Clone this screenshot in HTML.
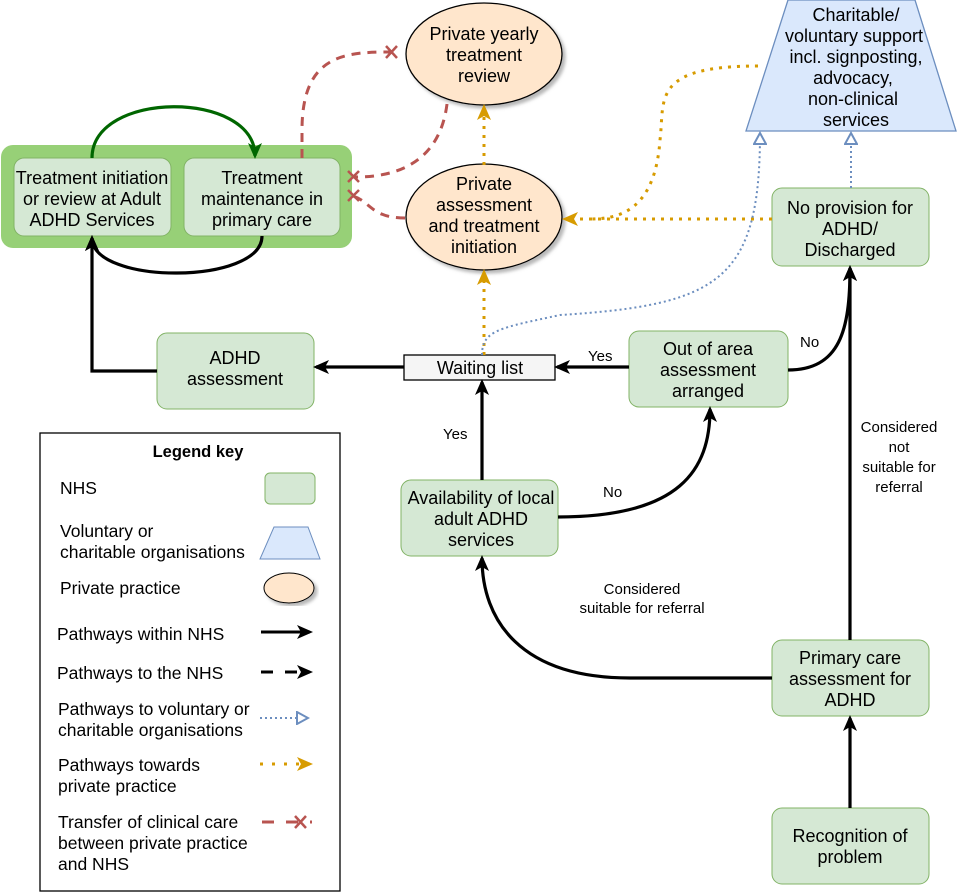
<!DOCTYPE html>
<html><head><meta charset="utf-8"><style>
html,body{margin:0;padding:0;background:#fff}
svg{display:block}
text{font-family:"Liberation Sans",Arial,sans-serif;fill:#000}
.n{font-size:18px}
.s{font-size:15px}
.l{font-size:17.5px}
</style></head><body>
<svg width="957" height="892" viewBox="0 0 957 892" xmlns="http://www.w3.org/2000/svg">
<defs>
<marker id="ab" markerWidth="16" markerHeight="16" refX="13" refY="8" orient="auto" markerUnits="userSpaceOnUse" viewBox="0 0 16 16"><path d="M0,1 L16,8 L0,15 L4,8 Z" fill="#000"/></marker>
<marker id="ag" markerWidth="16" markerHeight="16" refX="13" refY="8" orient="auto" markerUnits="userSpaceOnUse" viewBox="0 0 16 16"><path d="M0,1 L16,8 L0,15 L4,8 Z" fill="#006600"/></marker>
<marker id="ao" markerWidth="16" markerHeight="16" refX="13" refY="8" orient="auto" markerUnits="userSpaceOnUse" viewBox="0 0 16 16"><path d="M0,1 L16,8 L0,15 L4,8 Z" fill="#d79b00"/></marker>
<marker id="abl" markerWidth="14" markerHeight="14" refX="12" refY="7" orient="auto" markerUnits="userSpaceOnUse" viewBox="0 0 14 14"><path d="M1,1 L12,7 L1,13 Z" fill="#fff" stroke="#6c8ebf" stroke-width="2"/></marker>
<filter id="sh"><feDropShadow dx="3" dy="3" stdDeviation="1.5" flood-color="#888" flood-opacity="0.6"/></filter>
</defs>

<rect x="1" y="145" width="351" height="103" rx="12" fill="#97d077"/>
<rect x="14" y="158" width="157" height="78" rx="10" fill="#d5e8d4" stroke="#82b366"/>
<rect x="184" y="158" width="156" height="78" rx="10" fill="#d5e8d4" stroke="#82b366"/>
<text class="n" text-anchor="middle"><tspan x="92" y="184">Treatment initiation</tspan><tspan x="92" y="205">or review at Adult</tspan><tspan x="92" y="226">ADHD Services</tspan></text>
<text class="n" text-anchor="middle"><tspan x="262" y="184">Treatment</tspan><tspan x="262" y="205">maintenance in</tspan><tspan x="262" y="226">primary care</tspan></text>

<ellipse cx="484" cy="54" rx="78" ry="51" fill="#ffe6cc" stroke="#000" stroke-width="1.3" filter="url(#sh)"/>
<text class="n" text-anchor="middle"><tspan x="484" y="40">Private yearly</tspan><tspan x="484" y="61">treatment</tspan><tspan x="484" y="82">review</tspan></text>
<ellipse cx="484" cy="217" rx="78" ry="53" fill="#ffe6cc" stroke="#000" stroke-width="1.3" filter="url(#sh)"/>
<text class="n" text-anchor="middle"><tspan x="484" y="190">Private</tspan><tspan x="484" y="211">assessment</tspan><tspan x="484" y="232">and treatment</tspan><tspan x="484" y="253">initiation</tspan></text>

<path d="M788,0 L915,0 L956,131 L746,131 Z" fill="#dae8fc" stroke="#6c8ebf" stroke-width="1.3"/>
<text class="n" text-anchor="middle"><tspan x="856" y="21">Charitable/</tspan><tspan x="854" y="42">voluntary support</tspan><tspan x="856" y="63">incl. signposting,</tspan><tspan x="853" y="84">advocacy,</tspan><tspan x="853" y="105">non-clinical</tspan><tspan x="856" y="126">services</tspan></text>

<rect x="772" y="188" width="157" height="78" rx="10" fill="#d5e8d4" stroke="#82b366"/>
<text class="n" text-anchor="middle"><tspan x="850" y="214">No provision for</tspan><tspan x="850" y="235">ADHD/</tspan><tspan x="850" y="256">Discharged</tspan></text>
<rect x="157" y="333" width="157" height="76" rx="10" fill="#d5e8d4" stroke="#82b366"/>
<text class="n" text-anchor="middle"><tspan x="235" y="364">ADHD</tspan><tspan x="235" y="385">assessment</tspan></text>
<rect x="404" y="355" width="151" height="25" fill="#f5f5f5" stroke="#000" stroke-width="1.3"/>
<text class="n" text-anchor="middle" x="480" y="374">Waiting list</text>
<rect x="629" y="331" width="159" height="76" rx="10" fill="#d5e8d4" stroke="#82b366"/>
<text class="n" text-anchor="middle"><tspan x="708" y="355">Out of area</tspan><tspan x="708" y="376">assessment</tspan><tspan x="708" y="397">arranged</tspan></text>
<rect x="401" y="480" width="157" height="76" rx="10" fill="#d5e8d4" stroke="#82b366"/>
<text class="n" text-anchor="middle"><tspan x="481" y="504">Availability of local</tspan><tspan x="481" y="525">adult ADHD</tspan><tspan x="481" y="546">services</tspan></text>
<rect x="772" y="640" width="157" height="76" rx="10" fill="#d5e8d4" stroke="#82b366"/>
<text class="n" text-anchor="middle"><tspan x="850" y="664">Primary care</tspan><tspan x="850" y="685">assessment for</tspan><tspan x="850" y="706">ADHD</tspan></text>
<rect x="772" y="808" width="157" height="76" rx="10" fill="#d5e8d4" stroke="#82b366"/>
<text class="n" text-anchor="middle"><tspan x="850" y="842">Recognition of</tspan><tspan x="850" y="863">problem</tspan></text>

<g stroke="#000" stroke-width="3.2" fill="none">
<path d="M92,158 C92,90 255,90 255,156" stroke="#006600" marker-end="url(#ag)"/>
<path d="M262,236 C262,285 92,285 92,238" marker-end="url(#ab)"/>
<path d="M157,371 L92,371 L92,238" marker-end="url(#ab)"/>
<path d="M404,367 L316,367" marker-end="url(#ab)"/>
<path d="M629,367 L557,367" marker-end="url(#ab)"/>
<path d="M482,480 L482,382" marker-end="url(#ab)"/>
<path d="M558,517 C680,517 710,470 710,409" marker-end="url(#ab)"/>
<path d="M788,370 C840,370 850,330 850,268" marker-end="url(#ab)"/>
<path d="M850,640 L850,268" marker-end="url(#ab)"/>
<path d="M772,678 L630,678 C520,678 482,620 482,558" marker-end="url(#ab)"/>
<path d="M850,808 L850,718" marker-end="url(#ab)"/>
</g>
<text class="s" x="588" y="361">Yes</text>
<text class="s" x="443" y="439">Yes</text>
<text class="s" x="603" y="497">No</text>
<text class="s" x="800" y="347">No</text>
<text class="s" text-anchor="middle"><tspan x="899" y="432">Considered</tspan><tspan x="899" y="452">not</tspan><tspan x="899" y="472">suitable for</tspan><tspan x="899" y="492">referral</tspan></text>
<text class="s" text-anchor="middle"><tspan x="642" y="594">Considered</tspan><tspan x="642" y="613">suitable for referral</tspan></text>

<g stroke="#d79b00" stroke-width="3" fill="none" stroke-dasharray="3,6">
<path d="M484,355 L484,272" marker-end="url(#ao)"/>
<path d="M484,165 L484,107" marker-end="url(#ao)"/>
<path d="M772,219 L565,219" marker-end="url(#ao)"/>
<path d="M758,66 C650,66 665,100 660,140 C655,210 620,219 590,219"/>
</g>
<g stroke="#6c8ebf" stroke-width="2" fill="none" stroke-dasharray="2,3">
<path d="M482,355 C482,330 500,328 560,315 C720,305 760,280 760,133" marker-end="url(#abl)"/>
<path d="M851,188 L851,133" marker-end="url(#abl)"/>
</g>
<g stroke="#b85450" stroke-width="3" fill="none" stroke-dasharray="9,7">
<path d="M302,158 L302,130 C302,50 350,52 398,52"/>
<path d="M447,104 C440,160 400,178 352,177"/>
<path d="M405,218 C370,218 370,200 352,196"/>
</g>
<g stroke="#b85450" stroke-width="2.5">
<path d="M386,46 L397,58 M397,46 L386,58"/>
<path d="M348,171 L359,182 M359,171 L348,182"/>
<path d="M348,190 L359,201 M359,190 L348,201"/>
</g>

<rect x="40" y="433" width="300" height="458" fill="#fff" stroke="#000" stroke-width="1.3"/>
<text x="198" y="457" style="font-size:16.5px;font-weight:bold" text-anchor="middle">Legend key</text>
<text class="l" x="60" y="494">NHS</text>
<rect x="265" y="473" width="50" height="31" rx="5" fill="#d5e8d4" stroke="#82b366"/>
<text class="l"><tspan x="60" y="537">Voluntary or</tspan><tspan x="60" y="558">charitable organisations</tspan></text>
<path d="M274,527 L308,527 L320,559 L260,559 Z" fill="#dae8fc" stroke="#6c8ebf"/>
<text class="l" x="60" y="594">Private practice</text>
<ellipse cx="289" cy="588" rx="25" ry="15" fill="#ffe6cc" stroke="#000" filter="url(#sh)"/>
<text class="l" x="57" y="640">Pathways within NHS</text>
<path d="M261,632 L310,632" stroke="#000" stroke-width="3" marker-end="url(#ab)"/>
<text class="l" x="57" y="679">Pathways to the NHS</text>
<path d="M261,672 L310,672" stroke="#000" stroke-width="3" stroke-dasharray="12,12" marker-end="url(#ab)"/>
<text class="l"><tspan x="58" y="715">Pathways to voluntary or</tspan><tspan x="58" y="736">charitable organisations</tspan></text>
<path d="M260,718 L308,718" stroke="#6c8ebf" stroke-width="2" stroke-dasharray="2,3" marker-end="url(#abl)"/>
<text class="l"><tspan x="58" y="771">Pathways towards</tspan><tspan x="58" y="792">private practice</tspan></text>
<path d="M260,764 L310,764" stroke="#d79b00" stroke-width="3" stroke-dasharray="3,9" marker-end="url(#ao)"/>
<text class="l"><tspan x="58" y="828">Transfer of clinical care</tspan><tspan x="58" y="849">between private practice</tspan><tspan x="58" y="870">and NHS</tspan></text>
<path d="M262,822 L312,822" stroke="#b85450" stroke-width="3" stroke-dasharray="12,12"/>
<path d="M295,816 L306,828 M306,816 L295,828" stroke="#b85450" stroke-width="2.5"/>
</svg>
</body></html>
